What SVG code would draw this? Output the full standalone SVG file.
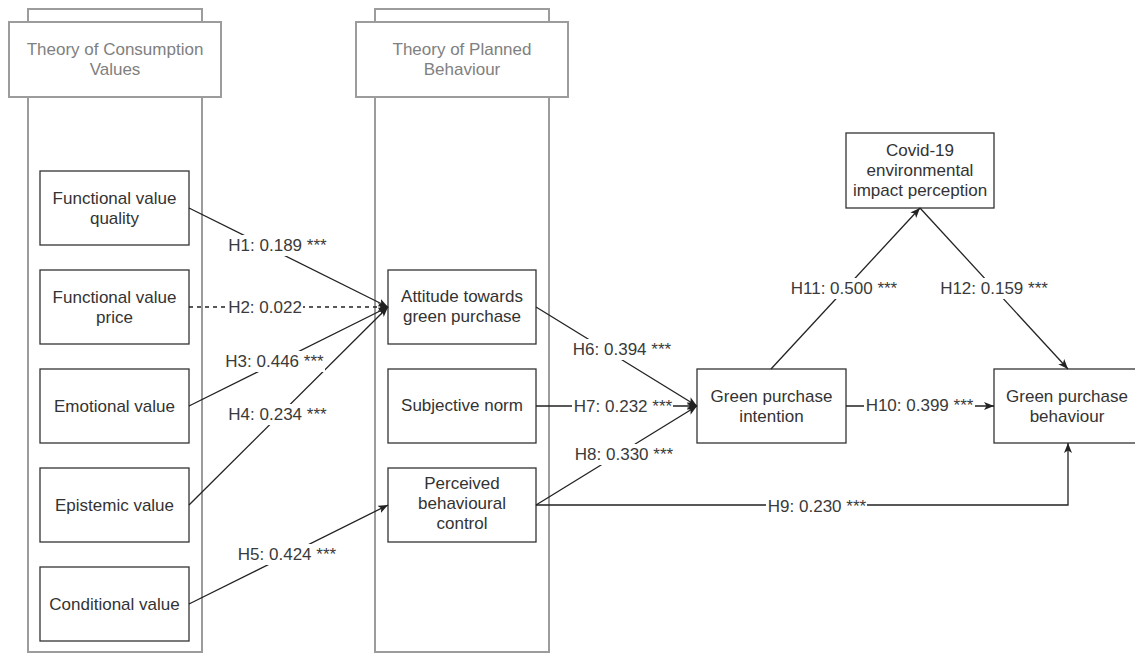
<svg xmlns="http://www.w3.org/2000/svg" width="1135" height="653" viewBox="0 0 1135 653">
<style>
  text { font-family: "Liberation Sans", Arial, Helvetica, sans-serif; font-size: 17px; text-anchor: middle; }
  .lane { fill: none; stroke: #9c9c9c; stroke-width: 2; }
  .head { fill: #ffffff; stroke: #9c9c9c; stroke-width: 2; }
  .headtxt { fill: #808080; }
  .box { fill: #ffffff; stroke: #333333; stroke-width: 1.3; }
  .lbl { fill: #333333; }
  .edge { fill: none; stroke: #222222; stroke-width: 1.3; marker-end: url(#arr); }
  .dash { stroke-dasharray: 4 4; }
  .bg { fill: #ffffff; stroke: none; }
  .etxt { fill: #3a3a3a; }
</style>
<defs>
  <marker id="arr" viewBox="0 0 10 8" refX="10" refY="4" markerWidth="10" markerHeight="8" markerUnits="userSpaceOnUse" orient="auto">
    <path d="M0,0 L10,4 L0,8 L2.5,4 Z" fill="#222222" stroke="none"/>
  </marker>
</defs>
<rect width="1135" height="653" fill="#ffffff"/>

<g id="lane-tcv">
  <rect class="lane" x="28" y="9" width="174" height="643"/>
  <rect class="head" x="9" y="22" width="212" height="75"/>
  <text class="headtxt" x="115" y="55">Theory of Consumption</text>
  <text class="headtxt" x="115" y="75">Values</text>
</g>
<g id="lane-tpb">
  <rect class="lane" x="375" y="9" width="174" height="643"/>
  <rect class="head" x="356" y="22" width="212" height="75"/>
  <text class="headtxt" x="462" y="55">Theory of Planned</text>
  <text class="headtxt" x="462" y="75">Behaviour</text>
</g>

<g id="fv-quality">
  <rect class="box" x="40" y="171" width="149" height="74"/>
  <text class="lbl" x="114.5" y="204">Functional value</text>
  <text class="lbl" x="114.5" y="224">quality</text>
</g>
<g id="fv-price">
  <rect class="box" x="40" y="270" width="149" height="74"/>
  <text class="lbl" x="114.5" y="303">Functional value</text>
  <text class="lbl" x="114.5" y="323">price</text>
</g>
<g id="emotional">
  <rect class="box" x="40" y="369" width="149" height="74"/>
  <text class="lbl" x="114.5" y="412">Emotional value</text>
</g>
<g id="epistemic">
  <rect class="box" x="40" y="468" width="149" height="74"/>
  <text class="lbl" x="114.5" y="511">Epistemic value</text>
</g>
<g id="conditional">
  <rect class="box" x="40" y="567" width="149" height="74"/>
  <text class="lbl" x="114.5" y="610">Conditional value</text>
</g>

<g id="attitude">
  <rect class="box" x="388" y="270" width="148" height="74"/>
  <text class="lbl" x="462" y="302">Attitude towards</text>
  <text class="lbl" x="462" y="322">green purchase</text>
</g>
<g id="subjective">
  <rect class="box" x="388" y="369" width="148" height="74"/>
  <text class="lbl" x="462" y="411">Subjective norm</text>
</g>
<g id="pbc">
  <rect class="box" x="388" y="468" width="148" height="74"/>
  <text class="lbl" x="462" y="489">Perceived</text>
  <text class="lbl" x="462" y="509">behavioural</text>
  <text class="lbl" x="462" y="529">control</text>
</g>

<g id="gpi">
  <rect class="box" x="697" y="369" width="149" height="74"/>
  <text class="lbl" x="771.5" y="402">Green purchase</text>
  <text class="lbl" x="771.5" y="422">intention</text>
</g>
<g id="covid">
  <rect class="box" x="846" y="133" width="148" height="75"/>
  <text class="lbl" x="920" y="156">Covid-19</text>
  <text class="lbl" x="920" y="176">environmental</text>
  <text class="lbl" x="920" y="196">impact perception</text>
</g>
<g id="gpb">
  <rect class="box" x="994" y="369" width="148" height="74"/>
  <text class="lbl" x="1067" y="402">Green purchase</text>
  <text class="lbl" x="1067" y="422">behaviour</text>
</g>

<g id="connectors">
  <path class="edge" d="M189,208 L388,307"/>
  <path class="edge dash" d="M189,307 L388,307"/>
  <path class="edge" d="M189,406 L388,307"/>
  <path class="edge" d="M189,505 L388,307"/>
  <path class="edge" d="M189,604 L388,505"/>
  <path class="edge" d="M536,307 L697,406"/>
  <path class="edge" d="M536,406 L697,406"/>
  <path class="edge" d="M536,505 L697,406"/>
  <path class="edge" d="M536,505 L1068,505 L1068,443"/>
  <path class="edge" d="M846,406 L994,406"/>
  <path class="edge" d="M771,369 L920,208"/>
  <path class="edge" d="M920,208 L1068,369"/>

  <rect class="bg" x="227" y="235" width="101" height="21"/>
  <text class="etxt" x="277.5" y="251">H1: 0.189 ***</text>
  <rect class="bg" x="227" y="297" width="76" height="21"/>
  <text class="etxt" x="265" y="313">H2: 0.022</text>
  <rect class="bg" x="224" y="351" width="101" height="21"/>
  <text class="etxt" x="274.5" y="367">H3: 0.446 ***</text>
  <rect class="bg" x="227" y="404" width="101" height="21"/>
  <text class="etxt" x="277.5" y="420">H4: 0.234 ***</text>
  <rect class="bg" x="236" y="544" width="101" height="21"/>
  <text class="etxt" x="287" y="560">H5: 0.424 ***</text>
  <rect class="bg" x="571" y="339" width="101" height="21"/>
  <text class="etxt" x="622" y="355">H6: 0.394 ***</text>
  <rect class="bg" x="572" y="396" width="101" height="21"/>
  <text class="etxt" x="623" y="412">H7: 0.232 ***</text>
  <rect class="bg" x="573" y="444" width="101" height="21"/>
  <text class="etxt" x="624" y="460">H8: 0.330 ***</text>
  <rect class="bg" x="766" y="496" width="101" height="21"/>
  <text class="etxt" x="817" y="512">H9: 0.230 ***</text>
  <rect class="bg" x="864" y="395" width="111" height="21"/>
  <text class="etxt" x="919.5" y="411">H10: 0.399 ***</text>
  <rect class="bg" x="789" y="278" width="110" height="21"/>
  <text class="etxt" x="844" y="294">H11: 0.500 ***</text>
  <rect class="bg" x="939" y="278" width="110" height="21"/>
  <text class="etxt" x="994" y="294">H12: 0.159 ***</text>
</g>
</svg>
